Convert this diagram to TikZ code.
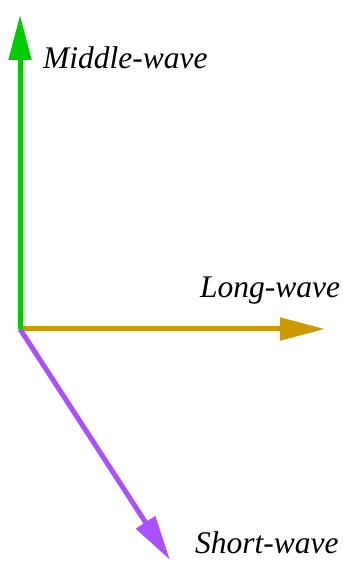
\documentclass[tikz,border=0pt]{standalone}
\usepackage{fontspec}
\setmainfont{Liberation Serif}
\usetikzlibrary{arrows.meta}
\definecolor{midgreen}{RGB}{0,204,0}
\definecolor{longgold}{RGB}{204,153,0}
\definecolor{shortpurple}{RGB}{170,80,255}
\tikzset{
  wave/.style={line width=5pt,-{Triangle[length=45pt,width=22pt]}},
  wavelabel/.style={font=\fontsize{31.5}{36}\selectfont\itshape,inner sep=0pt,anchor=base west}
}
\begin{document}
\begin{tikzpicture}[x=1pt,y=1pt]
  \useasboundingbox (0,0) rectangle (342,561);
  \coordinate (origin) at (20,232);
  \coordinate (mid) at (20,546);
  \coordinate (long) at (325,232);
  \coordinate (short) at (170,1);
  \draw[wave,longgold] (origin) -- (long);
  \draw[wave,shortpurple] (origin) -- (short);
  \draw[wave,midgreen] (origin) -- (mid);
  \node[wavelabel] (midlabel) at (43,492) {Middle-wave};
  \node[wavelabel] (longlabel) at (200,263) {Long-wave};
  \node[wavelabel] (shortlabel) at (195,8) {Short-wave};
\end{tikzpicture}
\end{document}
